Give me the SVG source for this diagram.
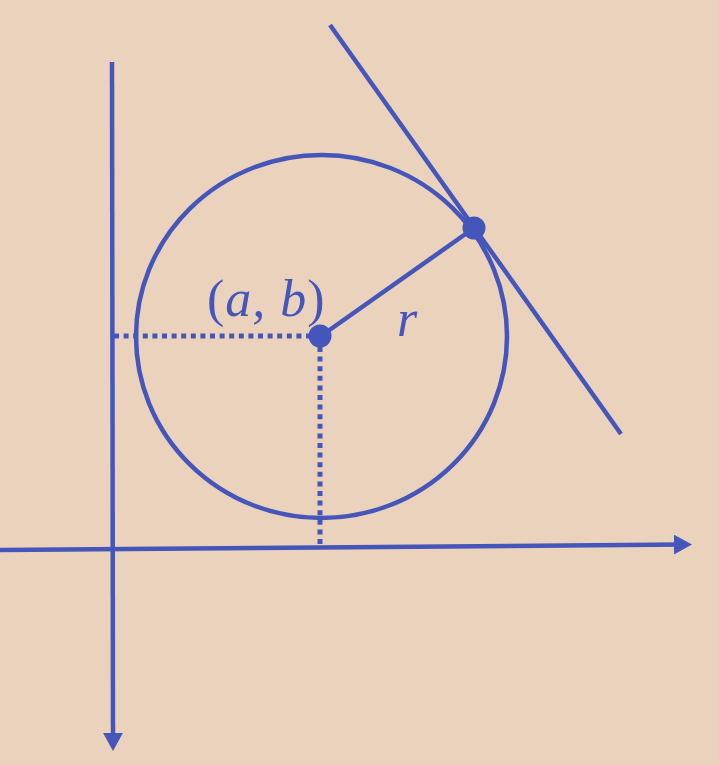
<svg xmlns="http://www.w3.org/2000/svg" width="719" height="765" viewBox="0 0 719 765">
<defs>
<style>
.ln{stroke:#4556BB;stroke-width:4.5;fill:none}
.dot{stroke:#4556BB;stroke-width:5;fill:none;stroke-dasharray:5 4.6}
.pt{fill:#4556BB}
.lbl{font-family:"Liberation Serif","DejaVu Serif",serif;font-style:italic;fill:#4556BB}
.up{font-style:normal}
</style>
<marker id="ah" markerWidth="4" markerHeight="4.4" refX="2" refY="2.2" orient="auto" markerUnits="strokeWidth" viewBox="0 0 4 4.4">
<path d="M0,0 L4,2.2 L0,4.4 Z" fill="#4556BB"/>
</marker>
</defs>
<rect width="719" height="765" fill="#EBD2BC"/>
<g id="connectors">
<line class="ln" x1="112" y1="62" x2="113" y2="742" marker-end="url(#ah)"/>
<line class="ln" x1="0" y1="550" x2="683" y2="544.5" marker-end="url(#ah)"/>
<line class="ln" x1="330" y1="25" x2="621" y2="434"/>
<line class="ln" x1="321" y1="336" x2="474" y2="228"/>
<line class="dot" x1="114" y1="336" x2="312" y2="336"/>
<line class="dot" x1="320" y1="347" x2="320" y2="545"/>
</g>
<g id="circle"><ellipse class="ln" cx="321.5" cy="336.5" rx="185.5" ry="181.5"/></g>
<g id="center"><circle class="pt" cx="320" cy="336" r="11.5"/></g>
<g id="tangent-point"><circle class="pt" cx="474" cy="228" r="11.5"/></g>
<text class="lbl" x="207" y="316" font-size="52" letter-spacing="1"><tspan class="up">(</tspan>a, b<tspan class="up">)</tspan></text>
<text class="lbl" x="397" y="336" font-size="52">r</text>
</svg>
